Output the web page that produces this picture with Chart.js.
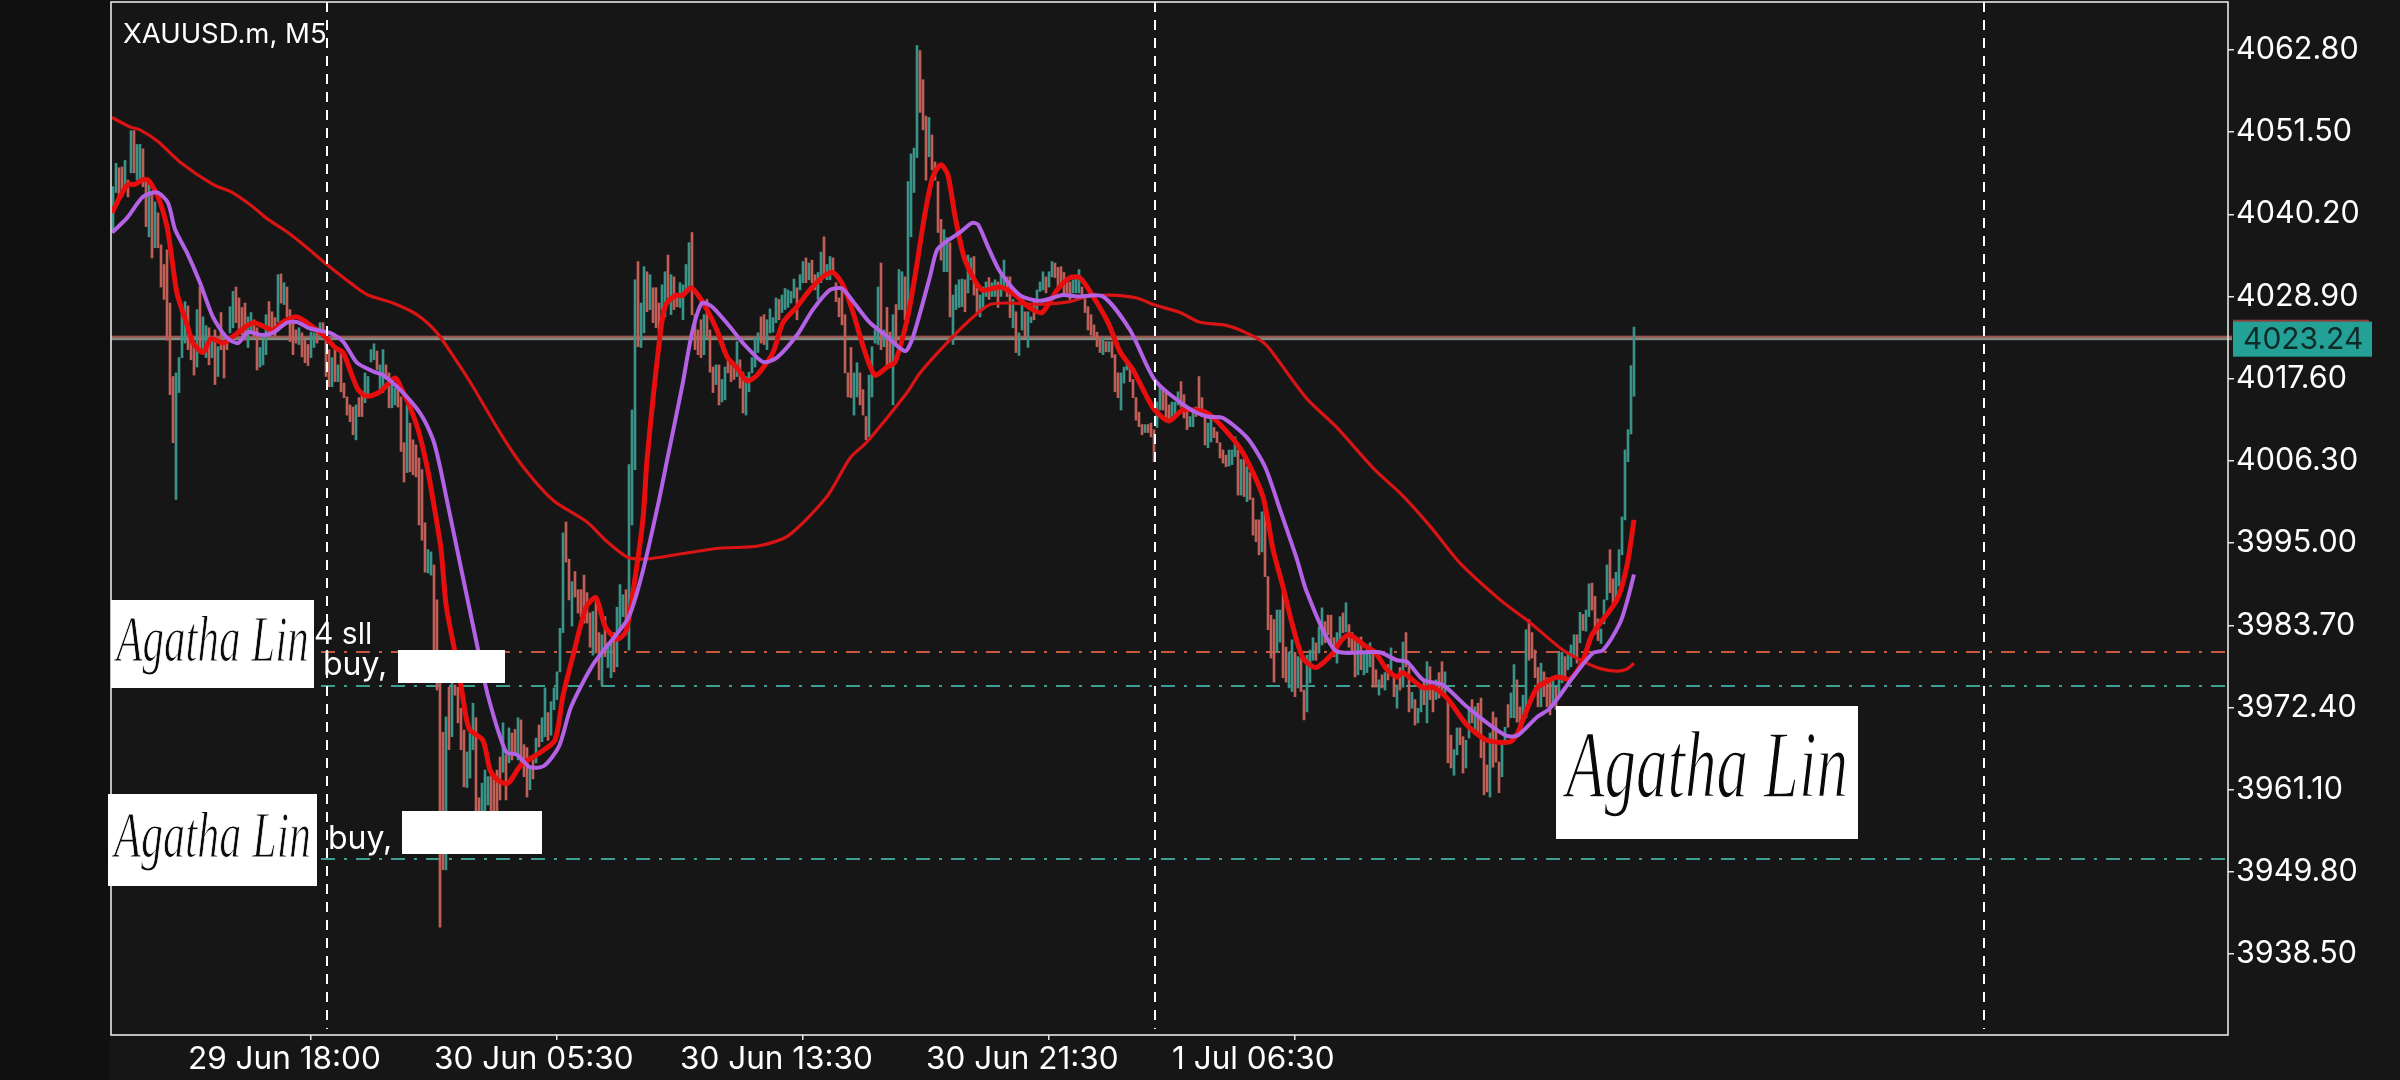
<!DOCTYPE html>
<html><head><meta charset="utf-8"><title>XAUUSD.m, M5</title>
<style>html,body{margin:0;padding:0;background:#161616}canvas{display:block}</style>
<script src="https://cdn.jsdelivr.net/npm/chart.js@4"></script></head>
<body><canvas id="c" width="2400" height="1080"></canvas>
<script>
const barHigh=[4044.0,4047.2,4046.6,4046.7,4047.6,4044.9,4051.7,4051.7,4049.8,4049.8,4049.2,4044.9,4044.3,4043.3,4041.9,4040.4,4036.0,4033.3,4035.3,4028.0,4017.9,4018.4,4020.5,4027.1,4028.2,4027.6,4023.4,4022.0,4027.1,4030.2,4026.1,4024.9,4024.6,4023.4,4024.3,4022.0,4026.7,4022.5,4023.2,4027.5,4029.6,4030.2,4028.7,4027.4,4028.0,4026.1,4026.7,4025.7,4024.6,4021.9,4022.9,4026.4,4028.2,4026.8,4026.0,4031.9,4032.0,4030.8,4030.2,4027.1,4025.7,4024.3,4024.6,4023.9,4022.9,4022.3,4024.0,4023.9,4024.6,4025.3,4025.3,4023.4,4021.6,4020.5,4021.6,4019.5,4021.3,4017.0,4015.1,4014.0,4013.7,4014.0,4015.0,4015.8,4018.4,4017.9,4021.6,4022.4,4021.4,4019.5,4021.6,4019.5,4018.4,4017.7,4016.3,4016.1,4015.1,4008.8,4014.0,4011.5,4009.2,4008.5,4006.7,4005.1,3997.8,3994.1,3993.8,3992.0,3987.2,3978.9,3969.0,3971.1,3975.2,3975.8,3975.5,3975.2,3972.3,3969.3,3966.3,3968.9,3973.0,3971.0,3960.0,3962.0,3963.8,3962.9,3963.1,3962.5,3963.8,3965.6,3970.3,3965.9,3969.6,3968.9,3969.4,3971.0,3970.7,3967.3,3966.9,3964.2,3965.2,3968.2,3970.0,3971.0,3975.1,3971.7,3973.2,3975.1,3977.3,3983.3,3996.4,3997.9,3992.8,3989.7,3991.1,3988.6,3988.6,3990.6,3988.2,3985.4,3985.6,3987.2,3982.7,3982.4,3984.9,3981.3,3981.3,3982.7,3986.2,3989.3,3987.9,3988.6,4005.8,4013.3,4031.2,4033.7,4028.0,4033.0,4032.3,4031.9,4030.1,4030.1,4028.0,4030.5,4032.3,4034.6,4031.9,4031.6,4029.0,4030.8,4030.5,4033.3,4036.3,4037.7,4026.4,4024.3,4025.7,4026.4,4028.5,4024.3,4019.2,4019.5,4019.5,4017.5,4019.2,4020.5,4019.5,4019.2,4022.7,4020.2,4018.5,4017.9,4018.5,4020.5,4023.2,4023.9,4026.1,4026.4,4025.7,4027.2,4026.0,4028.7,4028.5,4029.1,4030.0,4029.8,4029.6,4031.3,4030.1,4031.9,4033.7,4034.2,4033.5,4033.9,4031.9,4032.2,4035.0,4037.1,4033.3,4034.4,4034.2,4030.8,4028.7,4030.5,4026.4,4018.4,4021.9,4018.4,4019.8,4018.4,4016.1,4012.4,4018.1,4022.0,4024.3,4030.2,4033.5,4024.3,4027.4,4024.0,4026.4,4027.8,4032.6,4032.3,4031.6,4044.7,4048.5,4049.3,4063.4,4062.7,4058.7,4053.7,4053.5,4051.1,4047.4,4044.7,4039.5,4038.1,4037.0,4036.3,4029.1,4030.5,4031.2,4031.3,4031.2,4034.6,4034.2,4034.4,4030.1,4029.1,4030.2,4030.9,4031.5,4030.8,4031.2,4030.9,4031.9,4033.9,4031.6,4031.6,4028.5,4026.8,4023.9,4027.8,4026.8,4026.8,4026.1,4028.2,4029.8,4030.9,4032.3,4031.6,4032.3,4033.7,4033.5,4032.9,4033.0,4032.2,4031.2,4030.9,4031.2,4031.5,4032.6,4030.2,4028.9,4027.5,4026.4,4025.0,4024.0,4023.2,4023.2,4022.7,4022.7,4022.7,4020.9,4018.4,4018.4,4019.2,4019.8,4019.2,4017.5,4015.0,4013.0,4011.3,4011.3,4011.3,4011.5,4010.6,4014.4,4016.5,4016.1,4015.7,4014.0,4014.4,4014.4,4015.8,4017.2,4015.4,4013.0,4012.4,4013.3,4013.7,4017.9,4015.0,4012.4,4011.5,4012.4,4010.9,4010.3,4008.8,4007.8,4007.1,4007.8,4007.8,4009.6,4007.8,4006.5,4006.5,4005.5,4004.7,4001.2,3998.2,3998.2,3999.3,4000.5,3990.4,3985.1,3984.5,3985.8,3985.8,3988.2,3980.7,3980.0,3981.7,3980.0,3979.4,3979.2,3974.8,3979.6,3980.3,3982.0,3981.3,3983.5,3986.1,3984.2,3985.1,3985.1,3982.0,3982.7,3984.9,3985.4,3986.8,3983.8,3982.7,3981.7,3981.3,3982.1,3979.9,3980.3,3981.3,3980.3,3977.6,3976.2,3976.9,3977.2,3978.3,3980.6,3976.9,3975.5,3977.9,3981.4,3982.7,3978.0,3974.5,3973.5,3972.3,3975.1,3976.2,3978.7,3978.0,3974.8,3976.2,3977.2,3978.7,3977.3,3973.5,3968.6,3966.6,3969.6,3969.6,3968.4,3967.9,3972.1,3973.5,3972.5,3973.0,3973.7,3967.7,3964.5,3968.9,3971.8,3971.0,3964.9,3967.5,3969.7,3972.8,3974.4,3978.3,3976.2,3972.5,3974.1,3983.1,3984.5,3982.7,3980.3,3977.9,3978.5,3977.3,3976.5,3976.2,3976.2,3975.2,3980.0,3980.0,3979.4,3980.0,3981.0,3982.4,3982.4,3985.5,3985.2,3985.8,3989.4,3989.5,3987.7,3984.6,3983.2,3987.2,3992.0,3994.1,3990.1,3991.0,3994.1,3998.6,4007.8,4010.6,4019.4,4024.7];
const barLow=[4037.7,4043.2,4042.2,4042.6,4043.6,4042.6,4045.9,4045.9,4044.9,4044.7,4044.0,4038.5,4037.1,4034.2,4035.6,4035.6,4030.2,4028.5,4022.9,4015.4,4008.8,4001.0,4015.7,4020.5,4022.5,4021.6,4020.2,4018.1,4019.2,4021.2,4021.2,4020.5,4019.5,4020.5,4016.8,4017.9,4021.6,4017.7,4021.6,4023.9,4024.6,4025.3,4023.9,4023.6,4022.9,4021.9,4023.9,4023.4,4018.8,4019.2,4019.5,4020.9,4023.4,4024.6,4023.4,4025.4,4028.0,4027.8,4026.1,4022.7,4020.9,4022.5,4022.3,4020.6,4019.8,4019.4,4020.5,4021.9,4022.5,4023.2,4023.4,4017.9,4016.5,4016.5,4017.2,4017.2,4015.8,4015.0,4012.6,4011.7,4009.9,4009.2,4012.4,4012.4,4014.3,4015.1,4019.9,4020.2,4018.8,4015.7,4015.7,4017.7,4013.6,4013.6,4014.0,4013.7,4007.6,4003.4,4004.7,4004.8,4004.4,4004.1,3997.5,3995.4,3991.0,3990.9,3990.6,3980.3,3974.8,3942.2,3950.1,3950.1,3966.6,3968.4,3974.1,3970.3,3966.6,3961.5,3961.4,3962.7,3966.6,3958.0,3956.3,3957.6,3957.6,3959.0,3956.9,3956.9,3957.6,3959.7,3963.5,3959.7,3964.8,3965.2,3966.2,3965.2,3964.8,3962.9,3960.1,3961.1,3962.6,3964.8,3967.0,3967.7,3968.4,3967.9,3968.6,3972.1,3973.5,3977.3,3982.7,3992.4,3987.2,3983.6,3987.6,3985.4,3984.9,3984.0,3984.0,3980.7,3979.6,3979.9,3976.2,3975.5,3979.4,3977.9,3976.5,3977.3,3978.0,3983.1,3984.9,3984.0,3980.3,3997.5,4005.1,4022.0,4021.9,4023.9,4026.8,4027.1,4025.3,4024.6,4023.9,4027.1,4026.1,4028.7,4026.4,4027.1,4027.5,4027.4,4025.7,4029.8,4030.2,4026.4,4021.6,4020.9,4020.5,4020.9,4023.4,4018.5,4015.7,4016.8,4014.0,4014.4,4014.7,4018.4,4017.2,4017.5,4017.9,4016.3,4012.9,4012.6,4015.8,4018.4,4019.2,4021.2,4022.5,4022.3,4021.6,4023.9,4024.0,4025.3,4025.7,4026.7,4027.1,4027.4,4028.0,4028.7,4025.7,4029.8,4030.8,4030.8,4031.2,4030.8,4029.8,4028.5,4030.8,4031.9,4031.2,4031.2,4031.9,4028.2,4026.1,4025.0,4018.4,4015.1,4015.0,4012.6,4015.1,4014.0,4012.6,4009.2,4009.6,4015.1,4022.5,4022.3,4021.6,4022.0,4019.2,4019.2,4014.0,4022.5,4027.1,4027.1,4025.7,4027.1,4037.1,4043.2,4048.0,4054.2,4051.8,4044.9,4048.1,4046.3,4044.9,4037.7,4033.9,4032.3,4032.3,4026.1,4022.3,4027.1,4027.4,4027.5,4026.8,4029.4,4031.2,4029.1,4026.7,4026.1,4027.1,4028.9,4028.5,4028.9,4028.9,4027.4,4028.9,4030.2,4028.9,4026.0,4024.6,4021.2,4020.8,4024.3,4023.2,4021.9,4025.3,4025.7,4026.7,4029.6,4029.8,4029.4,4030.2,4031.6,4031.5,4030.2,4030.8,4029.4,4029.4,4028.5,4029.4,4029.4,4029.4,4028.9,4026.7,4024.3,4023.6,4023.2,4022.0,4021.2,4020.9,4021.3,4021.3,4020.5,4015.8,4015.0,4013.3,4017.0,4018.8,4017.2,4015.0,4011.9,4011.0,4009.9,4010.2,4010.2,4009.6,4006.2,4010.9,4013.3,4013.3,4012.2,4011.7,4012.4,4012.4,4014.0,4013.7,4012.2,4010.6,4011.0,4011.0,4012.4,4013.6,4012.4,4008.5,4008.1,4008.9,4009.5,4008.8,4006.7,4006.0,4005.5,4005.6,4005.8,4006.9,4001.6,4001.6,4001.4,4000.7,4001.0,3996.1,3995.2,3993.4,3993.8,3990.4,3983.1,3979.2,3975.9,3980.0,3981.4,3976.5,3975.9,3975.1,3974.6,3973.9,3975.1,3974.6,3970.7,3971.8,3975.8,3978.9,3978.9,3979.9,3981.0,3981.3,3982.4,3981.3,3979.4,3978.5,3981.3,3982.7,3982.8,3980.7,3979.9,3976.6,3976.9,3977.6,3976.9,3977.2,3978.0,3975.2,3975.2,3974.1,3975.1,3974.8,3976.2,3976.9,3973.9,3972.3,3974.8,3975.2,3978.0,3971.8,3972.3,3970.0,3970.3,3971.8,3972.8,3970.3,3973.5,3971.8,3973.5,3973.7,3974.4,3973.9,3964.8,3964.1,3963.1,3965.9,3967.3,3963.4,3964.1,3968.2,3970.3,3969.3,3968.9,3965.5,3960.4,3960.8,3960.1,3964.2,3964.9,3960.7,3962.9,3967.3,3969.7,3971.0,3971.0,3970.4,3969.3,3970.4,3971.0,3978.9,3979.2,3976.5,3972.5,3972.5,3973.9,3972.5,3971.4,3973.0,3972.1,3973.9,3975.8,3976.6,3977.6,3978.0,3979.4,3978.5,3981.3,3983.0,3982.9,3984.9,3985.8,3982.5,3981.6,3981.2,3983.9,3987.2,3988.2,3986.8,3986.8,3989.1,3993.4,3998.2,4006.2,4010.0,4015.2];
const barDir=("UUDDUDUDUU"+"DDUDUDDDDD"+"DUUUUDDDUD"+"UUDUDUDDDU"+"UDDDDUUDDU"+"UUDDDUDUDD"+"DDUDDDUUDU"+"DDDUDUDDDD"+"DUDDUUUUDU"+"UDDUUDDDUD"+"DDDDDUUDDD"+"DUDUDDDDUU"+"UDDUUUDDDD"+"UDUDDUDDDU"+"DUDUUDUUUU"+"UDDUDDDDDD"+"UDDUDUUDUU"+"UDUUUDUUDU"+"DDDUUDUDDU"+"UUUDDDDUDD"+"DUDUUDDDUD"+"DUUUUUDDUU"+"UUDUUUUUDU"+"UDUDDUUDUU"+"DDDDDDDUUD"+"DDUUUUDUDD"+"UDUUDUUUUD"+"DDUDDDDUUD"+"UUUUDUUDDU"+"UUDUUDUUDD"+"UDUUDUUDUU"+"UDUUDDDDDD"+"UUUDDDDDDD"+"UDUDDDUUUD"+"DDDDUDDDUU"+"DDDUUUDDDU"+"UDDDDUUDDD"+"DDUUUDUDUD"+"DDDUDDDDUU"+"DDUUDUDDUU"+"UDUUDDDDUU"+"DUDDDUDUUU"+"DDUDUDUDUD"+"UDDUDUUDUD"+"DUDDUDDUUD"+"DUUDUDDDDU"+"DDDUUDUUDD"+"UUDDDDUDDD"+"UDUUDUUUDU"+"DUUDDDUUUD"+"DUUUUUUU").split("");

const slowIdx=[-0.3,5.7,9,15,22.3,33.3,39.7,46.7,51.3,58,64.7,71.3,80,85,93.3,101.3,108,114.7,120,129,136.7,146.7,158,164.7,171.3,176.7,183.3,189,202,215,225,238,245.7,251.3,264.7,269,277.9,285.7,292.3,300,309,319,324.7,332.3,341.3,346.7,355.7,362,371.3,378.3,384.3,392.3,398.3,407.7,420.3,429.7,439.3,448.7,462.7,472,483.7,494,501,504.7,507];
const slowMA=[4053.5,4052.2,4051.8,4050.2,4047.4,4044.3,4043.2,4041.2,4039.6,4037.8,4035.6,4033.3,4030.5,4029.1,4028.0,4026.4,4023.9,4019.9,4016.5,4010.2,4005.5,4000.9,3997.9,3995.2,3993.1,3992.8,3993.1,3993.5,3994.3,3994.6,3996.0,4001.4,4006.7,4008.9,4015.7,4018.4,4022.5,4025.7,4027.8,4028.0,4027.8,4028.2,4028.9,4029.1,4028.7,4027.8,4026.7,4025.4,4024.9,4023.8,4022.3,4017.9,4014.7,4011.0,4005.2,4001.6,3997.2,3992.4,3987.1,3984.2,3980.2,3978.0,3977.4,3977.7,3978.5];

const fastIdx=[-0.3,2.3,5,7.3,9.7,11.7,15,18,19.7,21.3,24.7,26.7,30,32.7,36.7,40,46.7,53.3,56.3,61.3,66.7,71.3,74,76.7,79,81.7,84.7,89,94,96.3,99,101.7,104.7,106.7,109.3,111,113.7,116.3,118.7,123.3,125.7,128.3,131.7,136,142.3,147.3,150,154,157.7,161,164,168,171,173.7,176.7,178,182.3,184,185.7,188,189.7,192.7,195,198,201.3,204.7,208,211.3,214.7,220,223.3,228,232.3,236.7,240,243.3,246.7,250.7,254,258,260.7,264.7,267.3,270.7,273.3,276,278.3,280.7,284,289.7,295.7,300.7,305,309.7,314.7,319,322.3,326.7,331.7,335.7,340,346.7,352,356.7,364.7,371.3,376.7,383.3,386.7,390,393.3,396.7,401,406.7,409,412,418,420.7,424.7,428,430,436.7,440,444.7,451.3,458,465.7,468.3,471.7,474.7,481.3,485.7,490,493,501.3,504.7,507];
const fastMA=[4040.4,4042.6,4044.3,4044.3,4044.9,4044.9,4042.6,4038.5,4033.9,4029.4,4025.0,4022.5,4021.2,4023.1,4022.5,4023.4,4025.3,4024.3,4025.3,4026.1,4024.7,4023.1,4021.9,4021.2,4018.8,4016.1,4015.2,4015.8,4017.7,4016.1,4013.7,4010.6,4005.5,4000.9,3994.3,3986.6,3980.6,3974.6,3969.5,3967.9,3963.8,3962.4,3962.0,3964.5,3966.2,3967.9,3974.0,3980.6,3986.2,3987.5,3983.6,3981.8,3982.9,3989.3,3998.5,4006.4,4023.4,4027.5,4028.5,4029.1,4029.0,4030.1,4029.1,4027.1,4024.3,4020.6,4019.1,4017.3,4018.1,4021.2,4025.3,4027.5,4029.8,4031.6,4032.2,4030.5,4026.7,4021.2,4018.1,4019.2,4019.9,4025.7,4031.6,4040.4,4045.4,4047.0,4045.6,4039.9,4033.9,4029.8,4030.2,4029.1,4027.5,4026.7,4029.8,4031.5,4031.5,4028.9,4025.3,4021.3,4018.8,4013.6,4011.8,4013.3,4012.9,4010.3,4007.4,4001.4,3994.1,3989.0,3983.5,3979.2,3977.9,3979.9,3981.4,3982.4,3980.7,3980.0,3977.6,3976.6,3977.2,3975.1,3975.2,3973.7,3970.0,3967.9,3967.7,3969.0,3972.5,3975.1,3976.6,3976.3,3978.9,3982.4,3987.2,3992.0,3998.2];

const purpleIdx=[-0.3,4.7,10,14.7,18.3,20.7,24.7,29,33.3,38,41.7,45,49.7,53.3,58,61.3,65.7,72.3,76.7,81.3,86.7,90,95.7,102.3,106.7,109,111.3,121.3,125,131,134.7,139,143.7,148.7,152.7,160.3,171.7,176.7,182,184.7,189.7,193,196.3,199.7,205.7,210,216.7,221.3,228,233.3,239,243,246.7,252.3,258,264,266.7,272.3,274.7,278.3,282.3,286.3,288.3,291.7,295.7,302.3,309,316.7,321.3,330,339,347.3,358,364.7,370,378,384,389,394.7,398,407.3,418,422.3,428,431.3,436.7,443.3,451.3,459,464.7,468.3,474.7,479,486.7,493.3,496.7,502.3,504.7,507];
const purpleMA=[4037.7,4039.7,4042.6,4043.2,4041.8,4038.1,4034.9,4030.8,4026.1,4023.2,4022.5,4024.0,4023.6,4023.9,4025.3,4025.4,4024.5,4023.9,4022.7,4019.8,4018.6,4018.1,4016.1,4012.9,4009.2,4005.5,4000.9,3981.1,3974.0,3966.3,3965.9,3964.2,3964.4,3967.1,3972.5,3978.5,3984.7,3991.3,4000.9,4006.4,4016.5,4023.9,4028.0,4027.5,4024.7,4022.5,4019.9,4020.5,4023.6,4027.1,4029.8,4030.0,4028.2,4025.3,4023.4,4021.4,4023.4,4031.6,4035.3,4036.6,4037.7,4039.0,4038.8,4035.7,4032.3,4029.1,4028.3,4029.1,4028.9,4028.9,4024.3,4017.4,4013.7,4012.4,4012.2,4009.5,4005.5,3999.6,3992.7,3988.2,3980.3,3980.0,3980.0,3978.9,3978.7,3976.2,3975.5,3972.5,3970.0,3968.5,3968.6,3971.1,3972.3,3976.6,3979.9,3980.3,3984.0,3987.0,3990.7];

const priceTicks=[4062.80,4051.50,4040.20,4028.90,4017.60,4006.30,3995.00,3983.70,3972.40,3961.10,3949.80,3938.50];
const timeTicks=[25,107,189,271,353];
const timeLabels=["29 Jun 18:00","30 Jun 05:30","30 Jun 13:30","30 Jun 21:30","1 Jul 06:30"];
const periodSeparators=[71.2,347.2,623.7];
const lastPrice=4023.24;
const orderLevels=[3980.05,3975.4,3951.6];
const orderColors=["#c9573f","#3d9e93","#3d9e93"];

const FONT='Inter, "Noto Sans", sans-serif';
const pts=(xs,ys)=>xs.map((x,i)=>({x,y:ys[i]}));
const bars=barHigh.map((h,i)=>({x:i,y:[barLow[i],h]}));

const overlay={
 id:'overlay',
 beforeDraw(ch){
  const c=ch.ctx;
  c.save();
  c.fillStyle='#161616';c.fillRect(0,0,2400,1080);
  c.fillStyle='#101010';c.fillRect(0,0,110,1080);
  c.restore();
 },
 beforeDatasetsDraw(ch){
  const c=ch.ctx,y=ch.scales.y,a=ch.chartArea;
  c.save();
  c.lineWidth=2;c.setLineDash([14,9,3,9]);
  orderLevels.forEach((v,i)=>{c.strokeStyle=orderColors[i];const py=Math.round(y.getPixelForValue(v));
   c.beginPath();c.moveTo(a.left,py);c.lineTo(a.right,py);c.stroke();});
  c.setLineDash([]);
  const p=y.getPixelForValue(lastPrice);
  c.fillStyle='#858a80';c.fillRect(a.left,p-.5,a.right-a.left+4,3);
  c.fillStyle='#a8534c';c.fillRect(a.left,p-2,a.right-a.left+4,1.6);
  c.restore();
 },
 afterDatasetsDraw(ch){
  const c=ch.ctx,y=ch.scales.y,x=ch.scales.x,a=ch.chartArea;
  c.save();
  c.strokeStyle='#ffffff';c.lineWidth=2;c.setLineDash([10,8]);
  periodSeparators.forEach(v=>{const px=Math.round(x.getPixelForValue(v));c.beginPath();c.moveTo(px,a.top);c.lineTo(px,a.bottom-6);c.stroke();});
  c.setLineDash([]);
  c.strokeStyle='#e6e6e6';c.lineWidth=1.6;c.strokeRect(a.left,a.top,a.right-a.left,a.bottom-a.top);
  c.fillStyle='#ffffff';c.textBaseline='alphabetic';c.textAlign='left';
  c.font='27.5px '+FONT;c.fillText('XAUUSD.m, M5',123,43);
  c.font='30px '+FONT;
  c.fillText('4 sll',314,644);
  c.font='32px '+FONT;
  c.fillText('buy,',323,675);
  c.fillText('buy,',328,849);
  c.fillRect(398,650,107,33);
  c.fillRect(402,811,140,43);
  const sign=(l,t,r,b,fs,sy)=>{
   c.fillStyle='#ffffff';c.fillRect(l,t,r-l,b-t);
   c.save();c.textAlign='center';c.textBaseline='middle';
   c.translate((l+r)/2,(t+b)/2);c.scale(1,sy);
   c.font='italic '+fs+'px "Liberation Serif", serif';
   c.fillStyle='#0a0a0a';c.fillText('Agatha Lin',0,0);
   c.strokeStyle='#ffffff';c.lineWidth=fs/60;c.strokeText('Agatha Lin',0,0);
   c.restore();
  };
  sign(111,600,314,688,43,1.5);
  sign(108,794,317,886,44,1.5);
  sign(1556,706,1858,839,63,1.5);
  const p=y.getPixelForValue(lastPrice);
  c.fillStyle='#8f3f3a';c.fillRect(2233,p-18,136,3);
  c.fillStyle='#23a196';c.fillRect(2233,p-16,139,35);
  c.fillStyle='#0f2b29';c.font='30px '+FONT;c.textAlign='left';c.textBaseline='middle';
  c.fillText(lastPrice.toFixed(2),2243,p+2);
  c.restore();
 }
};

new Chart(document.getElementById('c'),{
 data:{datasets:[
  {type:'bar',label:'Bars',data:bars,barThickness:2,borderWidth:0,order:4,
   backgroundColor:barDir.map(d=>d==='U'?'#3a9389':'#bf5f58')},
  {type:'line',label:'MA slow',data:pts(slowIdx,slowMA),borderColor:'#d81414',borderWidth:3.2,pointRadius:0,tension:.25,order:3},
  {type:'line',label:'MA fast',data:pts(fastIdx,fastMA),borderColor:'#e80e0e',borderWidth:5,pointRadius:0,tension:.25,order:2},
  {type:'line',label:'MA mid',data:pts(purpleIdx,purpleMA),borderColor:'#b362e6',borderWidth:4,pointRadius:0,tension:.25,order:1}
 ]},
 options:{
  responsive:false,animation:false,events:[],
  layout:{padding:{left:111,top:2,right:0,bottom:0}},
  plugins:{legend:{display:false},tooltip:{enabled:false}},
  scales:{
   x:{type:'linear',min:-0.667,max:705,offset:false,
    afterBuildTicks(s){s.ticks=timeTicks.map(v=>({value:v}));},
    afterFit(s){s.height=45;s.paddingLeft=0;s.paddingRight=0;},
    grid:{drawOnChartArea:false,drawTicks:true,tickLength:5,color:'#e6e6e6',lineWidth:1.5},
    border:{display:false},
    ticks:{autoSkip:false,maxRotation:0,align:'start',padding:1,color:'#ffffff',font:{family:FONT,size:31.5},
     callback(v){const i=timeTicks.indexOf(v);return i<0?'':timeLabels[i];}}
   },
   y:{type:'linear',position:'right',min:3927.39,max:4069.38,
    afterBuildTicks(s){s.ticks=priceTicks.map(v=>({value:v}));},
    afterFit(s){s.width=172;s.paddingTop=0;s.paddingBottom=0;},
    grid:{drawOnChartArea:false,drawTicks:true,tickLength:6,color:'#e6e6e6',lineWidth:1.5},
    border:{display:false},
    ticks:{autoSkip:false,padding:2,color:'#ffffff',font:{family:FONT,size:30.5},
     callback(v){return Number(v).toFixed(2);}}
   }
  }
 },
 plugins:[overlay]
});
</script></body></html>
